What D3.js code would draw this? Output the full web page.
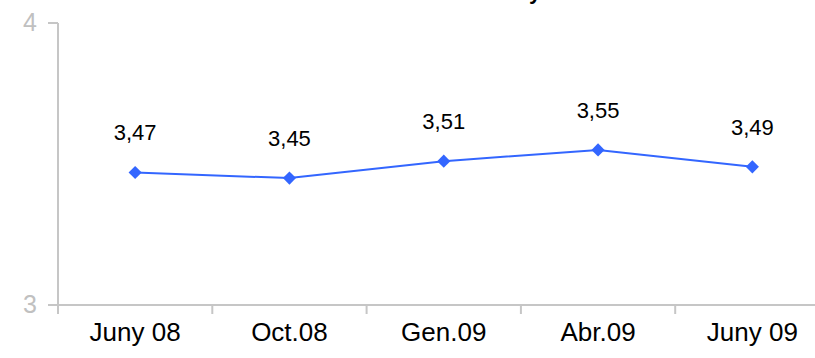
<!DOCTYPE html>
<html><head><meta charset="utf-8">
<script src="https://cdn.jsdelivr.net/npm/d3@7"></script>
<style>body{margin:0;background:#fff;} svg{display:block;}</style>
</head><body>
<script>
const categories = ["Juny 08", "Oct.08", "Gen.09", "Abr.09", "Juny 09"];
const values = [3.47, 3.45, 3.51, 3.55, 3.49];
const yTicks = [3, 4];
const titleText = "Total Catalunya";

const W = 815, H = 358;
const svg = d3.select("body").append("svg").attr("width", W).attr("height", H);

const x = d3.scaleBand().domain(categories).range([58, 829.5]);
const y = d3.scaleLinear().domain([3, 4]).range([305, 23]);
const axisColor = "#c6c6c6";

// y axis
svg.append("line").attr("x1", 58).attr("x2", 58).attr("y1", y(4)).attr("y2", y(3) + 9)
  .attr("stroke", axisColor).attr("stroke-width", 2);
yTicks.forEach(t => {
  svg.append("line").attr("x1", 48).attr("x2", 58).attr("y1", y(t)).attr("y2", y(t))
    .attr("stroke", axisColor).attr("stroke-width", 2);
  svg.append("text").attr("x", 37).attr("y", y(t)).attr("dy", "0.3em")
    .attr("text-anchor", "end").attr("font-family", "Liberation Sans, Arial, sans-serif")
    .attr("font-size", 25).attr("fill", "#c0c0c0").text(t);
});

// x axis
svg.append("line").attr("x1", 58).attr("x2", W).attr("y1", y(3)).attr("y2", y(3))
  .attr("stroke", axisColor).attr("stroke-width", 2);
categories.forEach(c => {
  svg.append("line").attr("x1", x(c)).attr("x2", x(c)).attr("y1", y(3)).attr("y2", y(3) + 9)
    .attr("stroke", axisColor).attr("stroke-width", 2);
  svg.append("text").attr("x", x(c) + x.bandwidth() / 2).attr("y", 341)
    .attr("text-anchor", "middle")
    .attr("font-family", "Liberation Sans, Arial, sans-serif")
    .attr("font-size", 26).attr("fill", "#000").text(c);
});

// line
const cx = c => x(c) + x.bandwidth() / 2;
const line = d3.line().x((d, i) => cx(categories[i])).y(d => y(d));
svg.append("path").datum(values).attr("d", line).attr("fill", "none")
  .attr("stroke", "#3366ff").attr("stroke-width", 2);

svg.selectAll("path.mk").data(values).enter().append("path")
  .attr("d", d3.symbol(d3.symbolDiamond2, 110)())
  .attr("transform", (d, i) => `translate(${cx(categories[i])},${y(d)})`)
  .attr("fill", "#3366ff");

svg.selectAll("text.lbl").data(values).enter().append("text")
  .attr("x", (d, i) => cx(categories[i])).attr("y", d => y(d) - 32)
  .attr("text-anchor", "middle").attr("font-family", "Liberation Sans, Arial, sans-serif")
  .attr("font-size", 22).attr("fill", "#000")
  .text(d => d.toFixed(2).replace(".", ","));

// title (mostly cut off at top)
const title = svg.append("text").attr("x", 0).attr("y", -1)
  .attr("font-family", "Liberation Sans, Arial, sans-serif").attr("font-weight", "bold")
  .attr("font-size", 22).attr("fill", "#000").text(titleText);
const yi = titleText.lastIndexOf("y");
const px = title.node().getStartPositionOfChar(yi).x;
title.attr("x", 529 - px);
</script>
</body></html>
